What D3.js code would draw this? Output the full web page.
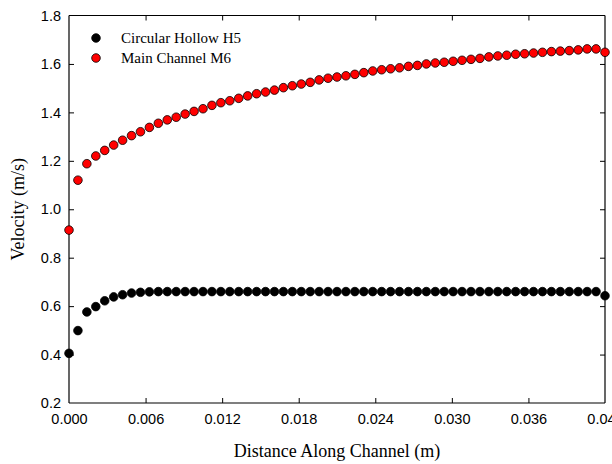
<!DOCTYPE html>
<html>
<head>
<meta charset="utf-8">
<title>Velocity along channel</title>
<script src="https://d3js.org/d3.v7.min.js"></script>
<style>
  body { margin: 0; background: #fff; }
  .tick text { font-family: "Liberation Sans", Arial, sans-serif; font-size: 14.5px; fill: #000; }
</style>
</head>
<body>
<div id="chart"></div>
<script>
// distance step between samples (m)
var step = 0.0007;
var xTicks = [0, 0.006, 0.012, 0.018, 0.024, 0.030, 0.036, 0.042];
var yTicks = [0.2, 0.4, 0.6, 0.8, 1.0, 1.2, 1.4, 1.6, 1.8];

// Circular Hollow H5
var hollowH5 = [0.405, 0.499, 0.576, 0.598, 0.622, 0.638, 0.647, 0.654, 0.657, 0.659,
  0.660, 0.660, 0.660, 0.660, 0.660, 0.660, 0.660, 0.660, 0.660, 0.660,
  0.660, 0.660, 0.660, 0.660, 0.660, 0.660, 0.660, 0.660, 0.660, 0.660,
  0.660, 0.660, 0.660, 0.660, 0.660, 0.660, 0.660, 0.660, 0.660, 0.660,
  0.660, 0.660, 0.660, 0.660, 0.660, 0.660, 0.660, 0.660, 0.660, 0.660,
  0.660, 0.660, 0.660, 0.660, 0.660, 0.660, 0.660, 0.660, 0.660, 0.660, 0.643];

// Main Channel M6
var mainM6 = [0.914, 1.120, 1.188, 1.220, 1.243, 1.265, 1.285, 1.304, 1.320, 1.338,
  1.355, 1.369, 1.380, 1.393, 1.404, 1.415, 1.429, 1.440, 1.448, 1.458,
  1.468, 1.477, 1.484, 1.492, 1.502, 1.510, 1.517, 1.524, 1.534, 1.541,
  1.546, 1.551, 1.557, 1.564, 1.571, 1.576, 1.580, 1.584, 1.590, 1.594,
  1.600, 1.604, 1.607, 1.611, 1.615, 1.619, 1.623, 1.629, 1.633, 1.636,
  1.640, 1.642, 1.645, 1.648, 1.651, 1.653, 1.655, 1.658, 1.662, 1.662, 1.648];

var seriesNames = ["Circular Hollow H5", "Main Channel M6"];
var seriesColors = ["#000000", "#ff0000"];

var W = 612, H = 464;
var margin = {top: 15.5, right: 7, bottom: 61, left: 69};
var width = W - margin.left - margin.right,
    height = H - margin.top - margin.bottom;

var svg = d3.select("#chart")
  .append("svg")
    .attr("width", W)
    .attr("height", H)
  .append("g")
    .attr("transform", "translate(" + margin.left + "," + margin.top + ")");

var x = d3.scaleLinear().domain([0, 0.042]).range([0, width]);
var y = d3.scaleLinear().domain([0.2, 1.8]).range([height, 0]);

var fmtX = d3.format(".3f"), fmtY = d3.format(".1f");

// axes, ticks pointing inward
var axB = svg.append("g").attr("transform", "translate(0," + height + ")")
  .call(d3.axisBottom(x).tickValues(xTicks).tickSize(-5).tickPadding(11).tickFormat(fmtX));
var axT = svg.append("g")
  .call(d3.axisTop(x).tickValues(xTicks).tickSize(-5).tickFormat(""));
var axL = svg.append("g")
  .call(d3.axisLeft(y).tickValues(yTicks).tickSize(-5).tickPadding(8).tickFormat(fmtY));
var axR = svg.append("g").attr("transform", "translate(" + width + ",0)")
  .call(d3.axisRight(y).tickValues(yTicks).tickSize(-5).tickFormat(""));

svg.selectAll(".domain").attr("stroke", "#000").attr("stroke-width", 1.2);
svg.selectAll(".tick line").attr("stroke", "#000").attr("stroke-width", 1);
// hide end ticks on the box corners
[axB, axT].forEach(function(a) {
  a.selectAll(".tick line").filter(function(d) { return d === 0 || d === 0.042; }).remove();
});
[axL, axR].forEach(function(a) {
  a.selectAll(".tick line").filter(function(d) { return d === 0.2 || d === 1.8; }).remove();
});
axB.selectAll(".domain").attr("d", "M0,0H" + width);
axT.selectAll(".domain").attr("d", "M0,0H" + width);
axL.selectAll(".domain").attr("d", "M0,0V" + height);
axR.selectAll(".domain").attr("d", "M0,0V" + height);

// axis titles
svg.append("text")
  .attr("x", width / 2)
  .attr("y", height + 54)
  .attr("text-anchor", "middle")
  .style("font-family", "'Liberation Serif', 'Times New Roman', serif")
  .style("font-size", "18px")
  .text("Distance Along Channel (m)");

svg.append("text")
  .attr("transform", "translate(" + (-45.5) + "," + (height / 2) + ") rotate(-90)")
  .attr("text-anchor", "middle")
  .style("font-family", "'Liberation Serif', 'Times New Roman', serif")
  .style("font-size", "18px")
  .text("Velocity (m/s)");

// data points
[hollowH5, mainM6].forEach(function(vals, k) {
  svg.append("g").selectAll("circle")
    .data(vals)
    .enter()
    .append("circle")
      .attr("cx", function(d, i) { return x(i * step); })
      .attr("cy", function(d) { return y(d); })
      .attr("r", 4.3)
      .attr("fill", seriesColors[k])
      .attr("stroke", "#000")
      .attr("stroke-width", 0.8);
});

// legend
var legend = svg.append("g").attr("transform", "translate(27,22.5)");
seriesNames.forEach(function(name, k) {
  var row = legend.append("g").attr("transform", "translate(0," + (k * 20) + ")");
  row.append("circle")
    .attr("r", 4.3)
    .attr("fill", seriesColors[k])
    .attr("stroke", "#000")
    .attr("stroke-width", 0.8);
  row.append("text")
    .attr("x", 25)
    .attr("y", 5)
    .style("font-family", "'Liberation Serif', 'Times New Roman', serif")
    .style("font-size", "15px")
    .text(name);
});
</script>
</body>
</html>
